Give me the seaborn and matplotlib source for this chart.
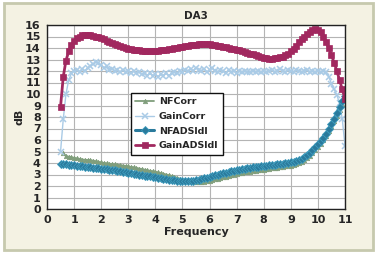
import numpy as np
import pandas as pd
import matplotlib
matplotlib.use("Agg")
import matplotlib.pyplot as plt
from matplotlib.patches import Rectangle
import seaborn as sns

# ---------------- data ----------------
freq = np.round(np.arange(0.5, 11.001, 0.1), 1)

gain_ads = [8.9, 11.5, 12.9, 13.7, 14.3, 14.6, 14.85, 15.0, 15.1, 15.15,
            15.15, 15.1, 15.05, 15.0, 14.95, 14.85, 14.75, 14.65, 14.55, 14.45,
            14.35, 14.25, 14.15, 14.05, 14.0, 13.95, 13.9, 13.85, 13.8, 13.8,
            13.78, 13.76, 13.75, 13.75, 13.75, 13.76, 13.78, 13.8, 13.83, 13.86,
            13.9, 13.94, 13.98, 14.02, 14.06, 14.1, 14.15, 14.2, 14.25, 14.28,
            14.3, 14.32, 14.34, 14.35, 14.35, 14.35, 14.3, 14.25, 14.2, 14.15,
            14.1, 14.05, 14.0, 13.95, 13.9, 13.85, 13.8, 13.7, 13.65, 13.55,
            13.5, 13.45, 13.4, 13.3, 13.2, 13.15, 13.1, 13.05, 13.05, 13.1,
            13.15, 13.2, 13.25, 13.35, 13.5, 13.7, 13.95, 14.2, 14.5, 14.75,
            15.0, 15.2, 15.4, 15.55, 15.65, 15.6, 15.4, 15.0, 14.5, 14.0,
            13.4, 12.7, 12.0, 11.2, 10.4, 9.6]

gain_corr = [5.0, 7.8, 10.0, 11.2, 11.8, 12.0, 12.1, 11.9, 12.2, 12.0,
             12.3, 12.4, 12.6, 12.8, 12.7, 12.5, 12.3, 12.4, 12.1, 12.2,
             12.0, 12.1, 11.9, 12.1, 11.9, 12.0, 11.8, 12.0, 11.8, 11.9,
             11.7, 11.8, 11.6, 11.8, 11.6, 11.7, 11.5, 11.7, 11.6, 11.8,
             11.6, 11.8, 11.9, 11.8, 12.0, 11.9, 12.1, 12.0, 12.2, 12.0,
             12.3, 12.1, 12.0, 12.2, 11.9, 12.1, 12.3, 12.0, 11.9, 12.1,
             12.0, 11.8, 12.1, 11.9, 12.0, 11.8, 12.0, 11.9, 12.0, 11.9,
             11.9, 12.0, 11.9, 12.0, 11.9, 12.0, 11.9, 12.0, 12.1, 11.9,
             12.0, 12.2, 12.0, 11.9, 12.1, 12.0, 11.9, 12.1, 12.0, 11.9,
             12.0, 12.1, 11.9, 12.0, 11.9, 12.0, 11.9, 12.0, 11.9, 11.5,
             10.9, 10.4, 9.9, 9.2, 7.8, 5.5]

nf_ads = [3.95, 3.9, 3.88, 3.85, 3.82, 3.8, 3.77, 3.74, 3.71, 3.68,
          3.65, 3.62, 3.59, 3.56, 3.53, 3.5, 3.47, 3.44, 3.41, 3.38,
          3.35, 3.31, 3.27, 3.23, 3.19, 3.15, 3.11, 3.07, 3.03, 2.99,
          2.95, 2.91, 2.87, 2.83, 2.79, 2.75, 2.71, 2.67, 2.63, 2.59,
          2.55, 2.52, 2.49, 2.46, 2.43, 2.41, 2.40, 2.40, 2.41, 2.43,
          2.48, 2.54, 2.6, 2.66, 2.72, 2.78, 2.85, 2.92, 2.98, 3.04,
          3.1, 3.16, 3.22, 3.28, 3.34, 3.39, 3.43, 3.47, 3.51, 3.55,
          3.58, 3.61, 3.64, 3.67, 3.7, 3.73, 3.77, 3.8, 3.83, 3.86,
          3.89, 3.92, 3.95, 3.98, 4.01, 4.05, 4.1, 4.17, 4.26, 4.38,
          4.53, 4.7, 4.9, 5.12, 5.36, 5.62, 5.9, 6.2, 6.55, 6.95,
          7.4, 7.85, 8.35, 8.9, 9.4, 9.8]

nf_corr = [np.nan, 4.85, 4.6, 4.55, 4.5, 4.45, 4.4, 4.35, 4.3, 4.28,
           4.26, 4.25, 4.2, 4.15, 4.1, 4.05, 4.0, 3.97, 3.94, 3.9,
           3.87, 3.84, 3.81, 3.78, 3.74, 3.7, 3.66, 3.62, 3.57, 3.52,
           3.47, 3.42, 3.37, 3.32, 3.28, 3.24, 3.18, 3.12, 3.06, 3.0,
           2.94, 2.88, 2.8, 2.72, 2.64, 2.56, 2.5, 2.45, 2.4, 2.36,
           2.34, 2.33, 2.34, 2.37, 2.41, 2.46, 2.52, 2.58, 2.64, 2.7,
           2.76, 2.82, 2.88, 2.94, 3.0, 3.05, 3.1, 3.14, 3.18, 3.22,
           3.26, 3.3, 3.34, 3.37, 3.4, 3.43, 3.46, 3.5, 3.53, 3.56,
           3.6, 3.63, 3.66, 3.7, 3.74, 3.78, 3.83, 3.9, 4.0, 4.12,
           4.26, 4.43, 4.63, 4.85, 5.1, 5.37, 5.66, 5.98, 6.35, 6.75,
           7.2, 7.65, 8.1, 8.6, 9.1, 9.55]

series_names = ["NFCorr", "GainCorr", "NFADSldl", "GainADSldl"]
x_ticks = list(range(0, 12))
y_ticks = list(range(0, 17))

# ---------------- styling ----------------
sns.set_style("white")
plt.rcParams["font.family"] = ["DejaVu Sans"]
plt.rcParams["font.weight"] = "bold"

W, H, DPI = 379, 258, 100
fig = plt.figure(figsize=(W / DPI, H / DPI), dpi=DPI, facecolor="white")
bg = Rectangle((4 / W, 1 - 250 / H), 369 / W, 247 / H,
               transform=fig.transFigure, facecolor="#f4f2e3",
               edgecolor="#c6c9ae", linewidth=2, zorder=-10)
fig.patches.append(bg)

ax = fig.add_axes([47 / W, 1 - 209 / H, 298 / W, 184 / H])
ax.set_zorder(1)
ax.set_facecolor("white")

styles = {
    "NFCorr": dict(color="#809e7c", marker="^", markersize=3.2, linewidth=1.3,
                   markeredgecolor="#809e7c", markeredgewidth=0.5),
    "GainCorr": dict(color="#aacbe6", marker="x", markersize=4.5, linewidth=1.0,
                     markeredgecolor="#aacbe6", markeredgewidth=1.1),
    "NFADSldl": dict(color="#2a7a9c", marker="D", markersize=3.6, linewidth=2.2,
                     markeredgecolor="#3f9cbd", markeredgewidth=0.6),
    "GainADSldl": dict(color="#a1285f", marker="s", markersize=4.3, linewidth=2.0,
                       markeredgecolor="#a1285f", markeredgewidth=0.5),
}
values = {"NFCorr": nf_corr, "GainCorr": gain_corr,
          "NFADSldl": nf_ads, "GainADSldl": gain_ads}

for name in series_names:
    df = pd.DataFrame({"Frequency": freq, "dB": values[name]}).dropna()
    sns.lineplot(data=df, x="Frequency", y="dB", ax=ax, label=name,
                 sort=False, errorbar=None, **styles[name])

ax.set_xlim(0, 11)
ax.set_ylim(0, 16)
ax.set_xticks(x_ticks)
ax.set_yticks(y_ticks)
ax.grid(True, color="#b4b4b4", linewidth=0.8)
ax.set_axisbelow(True)
for s in ax.spines.values():
    s.set_color("#222222")
    s.set_linewidth(1.0)
ax.tick_params(axis="both", which="major", direction="out", length=3,
               width=0.8, color="#222222", labelsize=8, pad=1.5)
for lbl in ax.get_xticklabels() + ax.get_yticklabels():
    lbl.set_fontweight("bold")

ax.set_xlabel("Frequency", fontsize=8, fontweight="bold", labelpad=1.5)
ax.set_ylabel("dB", fontsize=8, fontweight="bold")
ax.yaxis.set_label_coords(-0.077, 0.5)
ax.set_title("DA3", fontsize=7.5, fontweight="bold", pad=4)

leg = ax.legend(loc="upper left", bbox_to_anchor=(131 / W, 1 - 93 / H),
                bbox_transform=fig.transFigure, frameon=True, fancybox=False,
                edgecolor="#111111", facecolor="white", framealpha=1,
                fontsize=6.8, handlelength=2.0, labelspacing=0.6,
                borderpad=0.45, handletextpad=0.5, borderaxespad=0)
leg.get_frame().set_linewidth(1.0)
for t in leg.get_texts():
    t.set_fontweight("bold")

fig.savefig("out.png", dpi=DPI, facecolor="white")
